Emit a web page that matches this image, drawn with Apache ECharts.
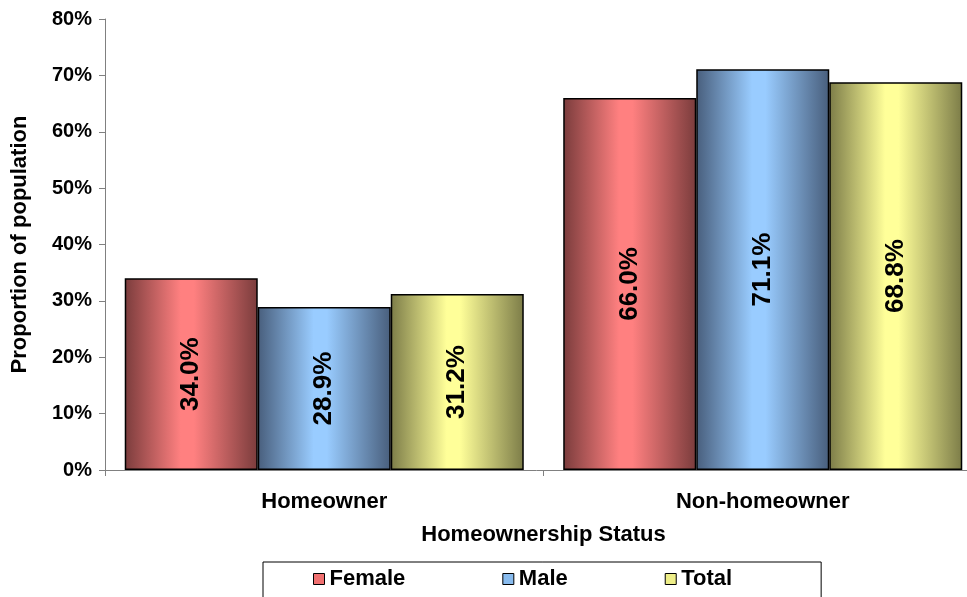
<!DOCTYPE html>
<html>
<head>
<meta charset="utf-8">
<script src="https://cdn.jsdelivr.net/npm/echarts@6/dist/echarts.min.js"></script>
<style>
html,body{margin:0;padding:0;background:#fff;}
#chart{width:967px;height:597px;}
</style>
</head>
<body>
<div id="chart"></div>
<script>
var categories = ['Homeowner', 'Non-homeowner'];
var femaleValues = [34.0, 66.0];
var maleValues = [28.9, 71.1];
var totalValues = [31.2, 68.8];
var seriesNames = ['Female', 'Male', 'Total'];
var yTicks = [0, 10, 20, 30, 40, 50, 60, 70, 80];

var FONT = '"Liberation Sans", Arial, sans-serif';
function grad(dark, light) {
  return new echarts.graphic.LinearGradient(0, 0, 1, 0, [
    {offset: 0, color: dark},
    {offset: 0.42, color: light},
    {offset: 0.52, color: light},
    {offset: 1, color: dark}
  ]);
}
var palette = {
  Female: {dark: '#7a3c3c', light: '#ff8080', solid: '#f07070'},
  Male: {dark: '#485e7c', light: '#99ccff', solid: '#88bbee'},
  Total: {dark: '#7c7c48', light: '#ffff99', solid: '#eeee88'}
};
var dataMap = {Female: femaleValues, Male: maleValues, Total: totalValues};

var chart = echarts.init(document.getElementById('chart'), null, {renderer: 'canvas'});
chart.setOption({
  animation: false,
  textStyle: {fontFamily: FONT},
  grid: {left: 105, width: 877, top: 19, bottom: 127, containLabel: false, outerBoundsMode: 'none'},
  legend: {
    data: seriesNames.map(function (n) {
      return {name: n, itemStyle: {color: palette[n].solid, borderColor: '#000', borderWidth: 1}};
    }),
    left: 263,
    top: 562,
    icon: 'rect',
    itemWidth: 11,
    itemHeight: 11,
    itemGap: 97,
    padding: [6, 89, 20, 50],
    borderColor: '#000',
    borderWidth: 1,
    textStyle: {fontSize: 22, fontWeight: 'bold', color: '#000', fontFamily: FONT}
  },
  xAxis: {
    type: 'category',
    data: categories,
    name: 'Homeownership Status',
    nameLocation: 'middle',
    nameGap: 54,
    nameTextStyle: {fontSize: 22, fontWeight: 'bold', color: '#000'},
    axisLine: {lineStyle: {color: '#808080', width: 1}},
    axisTick: {show: true, length: 6, lineStyle: {color: '#808080'}},
    axisLabel: {fontSize: 22, fontWeight: 'bold', color: '#000', margin: 21}
  },
  yAxis: {
    type: 'value',
    min: yTicks[0],
    max: yTicks[yTicks.length - 1],
    interval: 10,
    name: 'Proportion of population',
    nameLocation: 'middle',
    nameGap: 74,
    nameTextStyle: {fontSize: 22, fontWeight: 'bold', color: '#000'},
    axisLine: {show: true, lineStyle: {color: '#808080', width: 1}},
    axisTick: {show: true, length: 6, lineStyle: {color: '#808080'}},
    splitLine: {show: false},
    axisLabel: {formatter: '{value}%', fontSize: 20, fontWeight: 'bold', color: '#000', margin: 13}
  },
  series: seriesNames.map(function (n) {
    return {
      name: n,
      type: 'bar',
      data: dataMap[n],
      barGap: '0%',
      barCategoryGap: '9%',
      itemStyle: {color: grad(palette[n].dark, palette[n].light), borderColor: '#000', borderWidth: 1.5},
      label: {
        show: true,
        position: 'inside',
        rotate: 90,
        formatter: function (p) { return p.value.toFixed(1) + '%'; },
        fontSize: 26,
        fontWeight: 'bold',
        color: '#000',
        fontFamily: FONT
      }
    };
  })
});
</script>
</body>
</html>
